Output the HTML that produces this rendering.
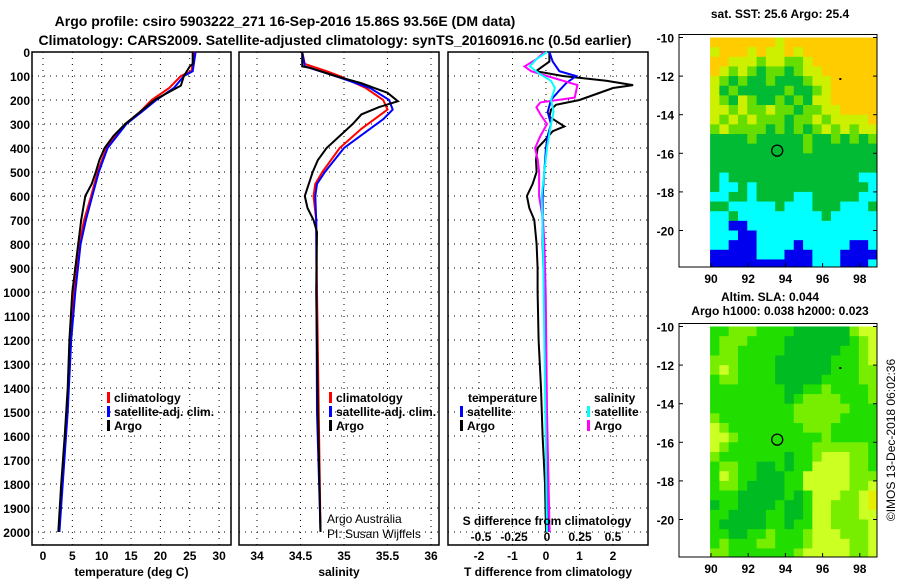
<!DOCTYPE html>
<html><head><meta charset="utf-8"><style>
body{margin:0;background:#fff}
svg{display:block;font-family:"Liberation Sans",sans-serif;font-weight:bold}
.g{stroke:#000;stroke-width:1;stroke-dasharray:1 5}
</style></head><body>
<svg id="c" width="900" height="580" viewBox="0 0 900 580" xmlns="http://www.w3.org/2000/svg">
<text x="285" y="26" font-size="14" text-anchor="middle">Argo profile: csiro 5903222_271 16-Sep-2016 15.86S 93.56E (DM data)</text>
<text x="335" y="45" font-size="14" text-anchor="middle">Climatology: CARS2009. Satellite-adjusted climatology: synTS_20160916.nc (0.5d earlier)</text>
</svg>
<script>
// ---------- data ----------
const depthTicks=[0,100,200,300,400,500,600,700,800,900,1000,1100,1200,1300,1400,1500,1600,1700,1800,1900,2000];
const tempTicks=[0,5,10,15,20,25,30];
const salTicks=[34,34.5,35,35.5,36];
const tdiffTicks=[-2,-1,0,1,2];
const sdiffTicks=[-0.5,-0.25,0,0.25,0.5];
const sdiffLabels=['-0.5','-0.25','0','0.25','0.5'];
const latTicks=[-10,-12,-14,-16,-18,-20];
const lonTicks=[90,92,94,96,98];

const tArgoD=[0,50,60,100,140,160,200,250,300,350,400,450,500,550,600,700,800,900,1000,1200,1400,1600,1800,2000];
const tArgoV=[25.5,25.5,25,24,23.5,22,19,16.5,14,12,10.5,9.6,9,8.3,7.2,6.5,6.0,5.5,5.0,4.5,4.2,3.7,3.1,2.6];
const tClimD=[0,80,100,150,200,250,300,400,500,600,700,800,1000,1200,1500,2000];
const tClimV=[25.8,25.3,23.5,21.5,18.5,16.5,14,10.8,9.3,8.2,7.0,6.2,5.3,4.7,4.1,2.7];
const tSatD=[0,80,100,150,200,250,300,400,500,600,700,800,1000,1200,1500,2000];
const tSatV=[26,25.5,24,22.3,19.3,16.8,14.2,11,9.5,8.4,7.3,6.4,5.5,4.8,4.2,2.8];

const sArgoD=[0,60,65,100,130,170,205,230,260,300,350,400,450,500,600,650,700,750,1000,1500,2000];
const sArgoV=[34.52,34.52,34.6,34.9,35.2,35.5,35.62,35.4,35.2,35.1,34.95,34.8,34.7,34.64,34.55,34.58,34.65,34.69,34.68,34.7,34.73];
const sClimD=[0,50,80,100,150,200,240,280,320,400,500,550,600,700,1000,2000];
const sClimV=[34.52,34.55,34.8,34.95,35.25,35.45,35.5,35.35,35.2,34.95,34.75,34.67,34.65,34.68,34.69,34.73];
const sSatD=[0,60,100,150,200,240,280,320,400,500,550,600,700,1500,2000];
const sSatV=[34.52,34.55,34.9,35.3,35.52,35.56,35.45,35.3,35.0,34.78,34.69,34.67,34.68,34.69,34.73];

const dTArgoD=[0,40,60,80,100,120,138,150,175,200,220,240,270,310,330,370,400,450,500,550,600,650,700,800,900,1000,1200,1400,1600,1800,2000];
const dTArgoV=[0.1,0.1,-0.1,-0.3,0.5,1.8,2.6,2.0,1.5,1.0,0.3,0.15,0.1,0.55,0.2,-0.05,-0.25,-0.3,-0.28,-0.4,-0.57,-0.5,-0.35,-0.28,-0.25,-0.25,-0.22,-0.15,-0.1,-0.03,0];
const dTSatD=[0,40,80,100,130,160,200,250,300,350,400,600,800,1000,2000];
const dTSatV=[0.1,0.2,0.4,0.9,0.6,0.4,0.15,0.05,0.15,0.05,0.0,-0.1,-0.1,-0.05,0.05];
const dSArgoD=[0,30,60,80,100,138,190,210,230,260,300,350,400,450,500,600,700,800,1000,1500,2000];
const dSArgoV=[-0.02,-0.08,-0.17,-0.12,0.0,0.23,0.21,-0.05,-0.08,-0.05,0.0,-0.05,-0.09,-0.07,-0.06,-0.06,-0.03,-0.02,-0.01,0.0,0.02];
const dSSatD=[0,30,60,90,120,150,200,250,300,400,600,800,2000];
const dSSatV=[0.0,-0.08,-0.13,-0.06,0.03,0.06,0.03,0.05,0.03,0.0,-0.04,-0.03,0.0];

const sstRows=["OOOOOOOYOOOOOOOOOO","YOOOYOYYOYOOOOOOOO","OOYYYLYYLLYOOOOOOO","OYLYLGLLGLYYOOOOOO","YLGLGGLGGGLYYOOOOO","YGLGGGGGLGGLYOOOOO","YLGYLGGLGLGYYOOOOO","YYLYLLYLLGLLYYOOOO","YLYLYLLLGLLYLYYYYO","LYLLLLGLGLGLYLYLYY","GGGGLGGGGGLGGLGLGL","GGGGGGGGGGLGGGGGGG","GGGGGGGGGGGGGGGGGG","GGGGGGGGGGGGGGGGGG","GCGGGGGGGGGGGGGGCC","GCCGCGGGGGGGGGGGGC","CCGGCGGGGCCGGGGGCC","GGCCCCCGCCCGGGCCCG","CCGCCCCCCCCCGCCCCC","CCBBCCCCCCCCCCCCCC","CCCBBCCCCCCCCCCCCC","CCBBBCCCCBCCCCCBBC","BBBBBCCCBBBCCCBBBB","BBBBBBBBBBBCCCBBBC"];
const slaRows=["GGLLLGGGGDDDDDDLYY","GLLLGGGGDDDDDDDGLY","GLLGGGGGDDDDDDGGLY","LLLGGGGDDDDDDGGGLY","LYLGGGGDDDDDDGGGLL","GLLGGGGDDDDDGGGGLL","GGGGGGGGDDGGLGGGGL","GGGGGGGGDGLLLLGGGL","GGGGGGGGGLLLLLLGGG","LGGGGGGGGLLLLLGGGG","YLGGGGGGGGLLLGGGGG","YYLGGGGGGGGGLGGGGG","YLGGGGGGGGGLLLLLLG","LGGGGGGGDGGLYYYLLG","GLLGGDDGDGGYYYYLLG","GYLGGDDDGGYYYYYLLL","GLLGDDDDGGYYYYYLLY","GGGDDDDDGDGYYYLLYZ","DGGDDDDGDDGYYLLLYZ","GGDDDDGGDDGYYLLLYY","GDDDDDGGDGGYYLLLLY","GGDDGGLGGGLYYYLLLY","GLGGGLLGGGLYYYYLLY","LLGGGGGGGLYYYYYLLY"];
const argoLon=93.56, argoLat=-15.86;

// ---------- helpers ----------
const svg=document.getElementById('c');const NS='http://www.w3.org/2000/svg';
function mk(tag,at,parent){const e=document.createElementNS(NS,tag);for(const k in at)e.setAttribute(k,at[k]);(parent||svg).appendChild(e);return e;}
function txt(x,y,s,at){const e=mk('text',Object.assign({x:x,y:y,'font-size':12},at||{}));e.textContent=s;return e;}
const Y=d=>52+0.24*d;
const TOP=52,BOT=545;

function panel(name,x0,x1,xs,ticks,lbl,title,gridTicks){
  const g=mk('g',{});
  
  
  for(const d of depthTicks){if(d>0)mk('line',{x1:x0,x2:x1,y1:Y(d),y2:Y(d),class:'g'},g);}
  for(const t of gridTicks){mk('line',{x1:xs(t),x2:xs(t),y1:TOP,y2:BOT,class:'g'},g);}
  const r=mk('rect',{x:x0,y:TOP,width:x1-x0,height:BOT-TOP,fill:'none',stroke:'#000','stroke-width':1.5},g);
  
  
  for(const t of ticks){const e=txt(xs(t),560,lbl(t),{'text-anchor':'middle'});
    
    }
  const tt=txt((x0+x1)/2,576,title,{'text-anchor':'middle'});
  
  
  return g;
}
function line(D,V,xs,color,name,w){
  const pts=D.map((d,i)=>xs(V[i]).toFixed(1)+','+Y(d).toFixed(1)).join(' ');
  const p=mk('polyline',{points:pts,fill:'none',stroke:color,'stroke-width':w||2});
  
  
}
function legend(x,y,color,label,name){
  const m=mk('rect',{x:x,y:y-10,width:3,height:11,fill:color});
  
  
  const t=txt(x+7,y,label);
  
  
}

// depth labels
for(const d of depthTicks){const e=txt(30,Y(d)+5,String(d),{'text-anchor':'end'});
  
  }

// panel 1 temperature
const xT=v=>43+5.87*v;
panel('temperature-panel',32,231,xT,tempTicks,String,'temperature (deg C)',tempTicks);
line(tClimD,tClimV,xT,'#f00','temp-climatology-line');
line(tSatD,tSatV,xT,'#00f','temp-satellite-line');
line(tArgoD,tArgoV,xT,'#000','temp-argo-line');
legend(107,402,'#f00','climatology','legend-climatology');
legend(107,416,'#00f','satellite-adj. clim.','legend-satellite-adj');
legend(107,430,'#000','Argo','legend-argo');

// panel 2 salinity
const xS=v=>257+87*(v-34);
panel('salinity-panel',239,439,xS,salTicks,String,'salinity',salTicks);
line(sClimD,sClimV,xS,'#f00','sal-climatology-line');
line(sSatD,sSatV,xS,'#00f','sal-satellite-line');
line(sArgoD,sArgoV,xS,'#000','sal-argo-line');
legend(329,402,'#f00','climatology','legend-sal-climatology');
legend(329,416,'#00f','satellite-adj. clim.','legend-sal-satellite-adj');
legend(329,430,'#000','Argo','legend-sal-argo');
let a=txt(327,523,'Argo Australia',{'font-weight':'normal'});

a=txt(327,538,'PI: Susan Wijffels',{'font-weight':'normal'});


// panel 3 differences
const xD=v=>546+33.5*v;
const xSD=v=>547+132*v;
panel('difference-panel',448,648,xD,tdiffTicks,String,'T difference from climatology',tdiffTicks);
line(dTArgoD,dTArgoV,xD,'#000','tdiff-argo-line');
line(dTSatD,dTSatV,xD,'#00f','tdiff-satellite-line');
line(dSArgoD,dSArgoV,xSD,'#f0f','sdiff-argo-line');
line(dSSatD,dSSatV,xSD,'#0ff','sdiff-satellite-line');
a=txt(468,402,'temperature');
a=txt(594,402,'salinity');
legend(460,416,'#00f','satellite','legend-tdiff-satellite');
legend(460,430,'#000','Argo','legend-tdiff-argo');
legend(587,416,'#0ff','satellite','legend-sdiff-satellite');
legend(587,430,'#f0f','Argo','legend-sdiff-argo');
a=txt(547,525,'S difference from climatology',{'text-anchor':'middle'});

sdiffTicks.forEach((t,i)=>{const e=txt(xSD(t),541,sdiffLabels[i],{'text-anchor':'middle'});
  });

// maps
const sstCol={O:'#ffcc00',Y:'#ccf000',L:'#66dd00',G:'#00bb33',C:'#00ffff',B:'#0000ee'};
const slaCol={D:'#00bb22',G:'#22dd00',L:'#77ee00',Y:'#ccff22',Z:'#e6ee00'};
function map(name,top,bot,rows,cols){
  const lon=v=>711+18.6*(v-90);
  const lat=v=>top+19.3*(-10-v);
  const g=mk('g',{});
  
  
  const cw=lon(90.5)-lon(90), ch=lat(-10.5)-lat(-10);
  rows.forEach((row,r)=>{[...row].forEach((c,k)=>{
    const x=lon(89.95+0.5*k), y=lat(-10-0.5*r);
    const w=Math.min(cw+0.5,877-x), h=Math.min(ch+0.5,bot-y);
    if(w>0&&h>0){mk('rect',{x:x,y:y,width:w,height:h,fill:cols[c]},g);}
  });});
  mk('rect',{x:679,y:top-3,width:198,height:bot-top+3,fill:'none',stroke:'#000'},g);
  for(const t of latTicks){const e=txt(674,lat(t)+5,String(t),{'text-anchor':'end'});
    
    mk('line',{x1:873,x2:877,y1:lat(t),y2:lat(t),stroke:'#000'},g);
    mk('line',{x1:679,x2:683,y1:lat(t),y2:lat(t),stroke:'#000'},g);}
  for(const t of lonTicks){const e=txt(lon(t),bot+16,String(t),{'text-anchor':'middle'});
    
    mk('line',{x1:lon(t),x2:lon(t),y1:bot,y2:bot-4,stroke:'#000'},g);}
  const c=mk('circle',{cx:lon(argoLon),cy:lat(argoLat),r:5.5,fill:'none',stroke:'#000','stroke-width':1.3},g);
  
  mk('rect',{x:lon(96.9),y:lat(-12.1),width:2,height:2,fill:'#000'},g);
}
map('sst-map',37.5,267,sstRows,sstCol);
map('sla-map',326.5,557,slaRows,slaCol);
a=txt(780,18,'sat. SST: 25.6 Argo: 25.4',{'text-anchor':'middle'});
a=txt(770,301,'Altim. SLA: 0.044',{'text-anchor':'middle'});
a=txt(780,315,'Argo h1000: 0.038 h2000: 0.023',{'text-anchor':'middle'});
a=txt(0,0,'©IMOS 13-Dec-2018 06:02:36',{'text-anchor':'middle','font-weight':'normal','transform':'translate(895,440) rotate(-90)'});

</script>
</body></html>
